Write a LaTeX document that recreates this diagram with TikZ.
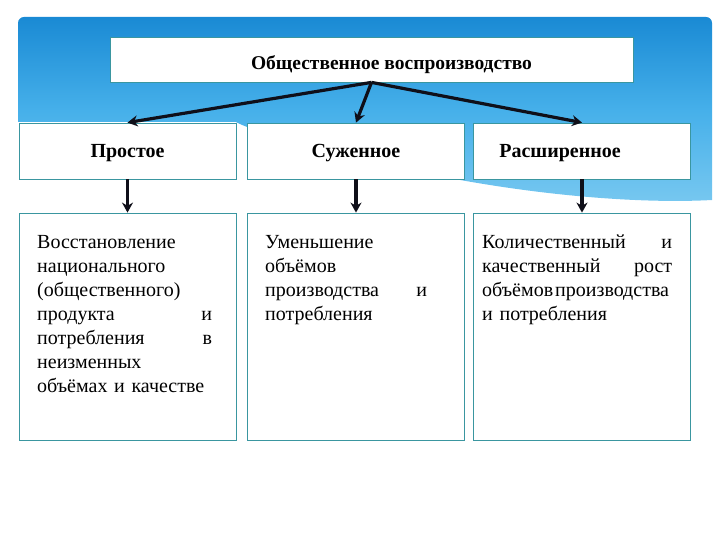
\documentclass[tikz,border=0pt]{standalone}
\usepackage{fontspec}
\setmainfont{Liberation Serif}
\usetikzlibrary{arrows.meta,calc}
\definecolor{skytop}{RGB}{26,138,212}
\definecolor{skymid}{RGB}{70,176,234}
\definecolor{skylow}{RGB}{120,200,240}
\definecolor{boxline}{RGB}{58,150,160}
\definecolor{arrowink}{RGB}{15,15,25}
\begin{document}
\begin{tikzpicture}[x=1pt,y=-1pt,
  box/.style={draw=boxline,line width=0.8pt,fill=white,inner sep=0pt},
  headbox/.style={box,minimum width=217pt,minimum height=56pt,text height=13.2pt,text depth=0pt,font=\fontsize{20}{22}\selectfont\bfseries},
  descbox/.style={box,minimum width=217pt,minimum height=227pt},
  desctext/.style={anchor=base west,inner sep=0pt,align=left,font=\fontsize{20}{24}\selectfont},
  arr/.style={draw=arrowink,line width=3.2pt,-{Stealth[length=10pt,width=11pt]}}]
\useasboundingbox (0,0) rectangle (720,540);
% sky banner
\path[top color=skytop,bottom color=skylow,middle color=skymid]
  (18,122) -- (18,23) arc[start angle=180,end angle=90,radius=6pt]
  -- (706,17) arc[start angle=90,end angle=0,radius=6pt]
  -- (712,200) .. controls (620,205) and (470,190) .. (330,150)
  .. controls (290,140) and (250,130) .. (236,122) -- cycle;
% top box
\node[box,minimum width=523pt,minimum height=45pt,text height=19.5pt,text depth=0pt,font=\fontsize{19.5}{21}\selectfont\bfseries]
  (top) at (371.5,59.5) {\hspace*{40pt}Общественное воспроизводство};
% headings
\node[headbox] (simple) at (127.5,151) {Простое};
\node[headbox] (narrow) at (356,151) {Суженное};
\node[headbox] (wide) at (582,151) {\hspace*{-44pt}Расширенное};
% description boxes
\node[descbox] (d1) at (127.5,326.5) {};
\node[descbox] (d2) at (356,326.5) {};
\node[descbox] (d3) at (582,326.5) {};
\node[desctext,text width=175pt] (t1) at (37,248) {Восстановление\\национального\\(общественного)\\продукта\hfill и\\потребления\hfill в\\неизменных\\объёмах и качестве};
\node[desctext,text width=162pt] (t2) at (265,248) {Уменьшение\\объёмов\\производства\hfill и\\потребления};
\node[desctext,text width=190pt] (t3) at (482,248) {Количественный\hfill и\\качественный\hfill рост\\объёмов\hspace{2pt}производства\\и потребления};
% arrows
\draw[arr] (top.south) -- (simple.north);
\draw[arr] (top.south) -- (narrow.north);
\draw[arr] (top.south) -- (wide.north);
\draw[arr] (simple.south) -- (d1.north);
\draw[arr] (narrow.south) -- (d2.north);
\draw[arr] (wide.south) -- (d3.north);
\end{tikzpicture}
\end{document}
